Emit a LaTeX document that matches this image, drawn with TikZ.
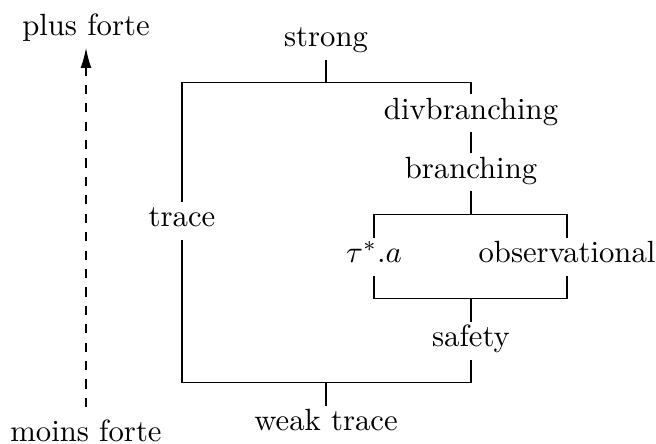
\documentclass[tikz,border=0pt]{standalone}
\usetikzlibrary{arrows.meta}
\begin{document}
\begin{tikzpicture}[x=0.3257pt,y=-0.3257pt,
  lbl/.style={anchor=base,inner sep=2pt,text height=6pt,text depth=2pt},
  link/.style={draw,line width=0.4pt}]
\useasboundingbox (0,0) rectangle (656,443);
% scale labels
\node[lbl] (plus) at (86,35) {plus forte};
\node[lbl] (moins) at (86,441.5) {moins forte};
\draw[dashed,-{Latex[length=6.5pt,width=3.5pt]},shorten <=3pt] (moins.north) -- (plus.south);
% lattice nodes
\node[lbl] (strong) at (326,46.7) {strong};
\node[lbl] (divb) at (471,119) {divbranching};
\node[lbl] (branch) at (471,178) {branching};
\node[lbl] (trace) at (182,226.7) {trace};
\node[lbl] (tau) at (374,262.7) {$\tau^*.a$};
\node[lbl] (obs) at (567,262.7) {observational};
\node[lbl] (safety) at (471,346.7) {safety};
\node[lbl] (weak) at (326,430.7) {weak trace};
% junctions
\coordinate (j1) at (326,82.7);
\coordinate (j2) at (471,214.3);
\coordinate (j3) at (471,298.3);
\coordinate (j4) at (326,382.7);
% connectors
\draw[link] (strong.south) -- (j1);
\draw[link] (trace.north) |- (j1) -| (divb.north);
\draw[link] (divb.south) -- (branch.north);
\draw[link] (branch.south) -- (j2);
\draw[link] (tau.north) |- (j2) -| (obs.north);
\draw[link] (tau.south) |- (j3) -| (obs.south);
\draw[link] (j3) -- (safety.north);
\draw[link] (trace.south) |- (j4) -| (safety.south);
\draw[link] (j4) -- (weak.north);
\end{tikzpicture}
\end{document}
